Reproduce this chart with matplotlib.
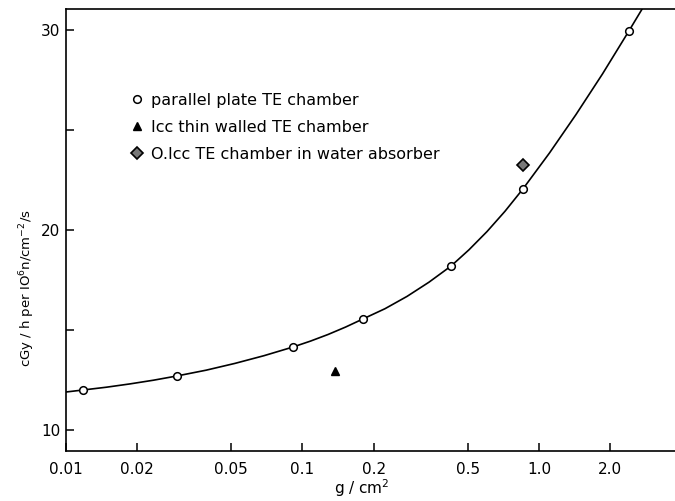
import matplotlib
matplotlib.use("Agg")
import matplotlib.pyplot as plt
from matplotlib.ticker import FixedLocator, NullFormatter

# data
plate_x = [0.0118, 0.0294, 0.0912, 0.180, 0.425, 0.855, 2.40]
plate_y = [12.0, 12.7, 14.15, 15.55, 18.2, 22.05, 29.95]

thin_x = [0.137]
thin_y = [12.95]

water_x = [0.855]
water_y = [23.25]

# hand-drawn fit curve
curve_x = [0.0100, 0.0118, 0.01483, 0.01865, 0.02344, 0.0294, 0.0391, 0.0518,
           0.0687, 0.0912, 0.1081, 0.1282, 0.1520, 0.180, 0.2233, 0.2767,
           0.3426, 0.425, 0.5058, 0.6027, 0.7181, 0.855, 1.1076, 1.4334,
           1.8553, 2.40, 2.73]
curve_y = [11.9, 12.0, 12.14, 12.305, 12.49, 12.7, 12.99, 13.33, 13.715,
           14.15, 14.445, 14.775, 15.145, 15.55, 16.065, 16.68, 17.39, 18.2,
           19.01, 19.92, 20.935, 22.05, 23.85, 25.77, 27.8, 29.95, 31.05]

xticks = [0.01, 0.02, 0.05, 0.1, 0.2, 0.5, 1.0, 2.0]
xtick_labels = ["0.01", "0.02", "0.05", "0.1", "0.2", "0.5", "1.0", "2.0"]
yticks = [10, 20, 30]
yminor = [15, 25]

fig = plt.figure(figsize=(6.75, 5.01), dpi=100)
ax = fig.add_axes([66 / 675, 50 / 501, 609 / 675, 442 / 501])

ax.plot(curve_x, curve_y, color="black", lw=1.2, zorder=2)
ax.plot(plate_x, plate_y, "o", ms=5.5, mfc="white", mec="black", mew=1.1,
        zorder=3, linestyle="none", label="parallel plate TE chamber")
ax.plot(thin_x, thin_y, "^", ms=5.5, color="black", zorder=3,
        linestyle="none", label="Icc thin walled TE chamber")
ax.plot(water_x, water_y, "D", ms=6, mfc="#777777", mec="black", mew=1.2,
        zorder=3, linestyle="none", label="O.Icc TE chamber in water absorber")

ax.set_xscale("log")
ax.set_xlim(0.01, 3.76)
ax.set_ylim(8.95, 31.05)

ax.xaxis.set_major_locator(FixedLocator(xticks))
ax.set_xticklabels(xtick_labels)
ax.xaxis.set_minor_formatter(NullFormatter())
ax.xaxis.set_minor_locator(FixedLocator([]))
ax.set_yticks(yticks)
ax.yaxis.set_minor_locator(FixedLocator(yminor))

ax.tick_params(axis="both", which="both", direction="in", length=6, width=1.1,
               labelsize=11)
ax.tick_params(axis="x", pad=8)
ax.tick_params(axis="y", pad=4)
ax.tick_params(top=False, right=False)

ax.spines["right"].set_visible(False)
for s in ["left", "bottom", "top"]:
    ax.spines[s].set_linewidth(1.2)

ax.set_xlabel("g / cm$^2$", fontsize=11)
ax.xaxis.set_label_coords(0.486, -0.06)
ax.text(-0.063, 0.369, "cGy / h per IO$^6$n/cm$^{-2}$/s", transform=ax.transAxes,
        rotation=90, ha="center", va="center", fontsize=9.5)

ax.legend(loc="upper left", bbox_to_anchor=(0.095, 0.825), frameon=False,
          fontsize=11.5, handlelength=0.8, handletextpad=0.5,
          labelspacing=0.75, borderaxespad=0)

fig.savefig("out.png", dpi=100)
plt.close(fig)
